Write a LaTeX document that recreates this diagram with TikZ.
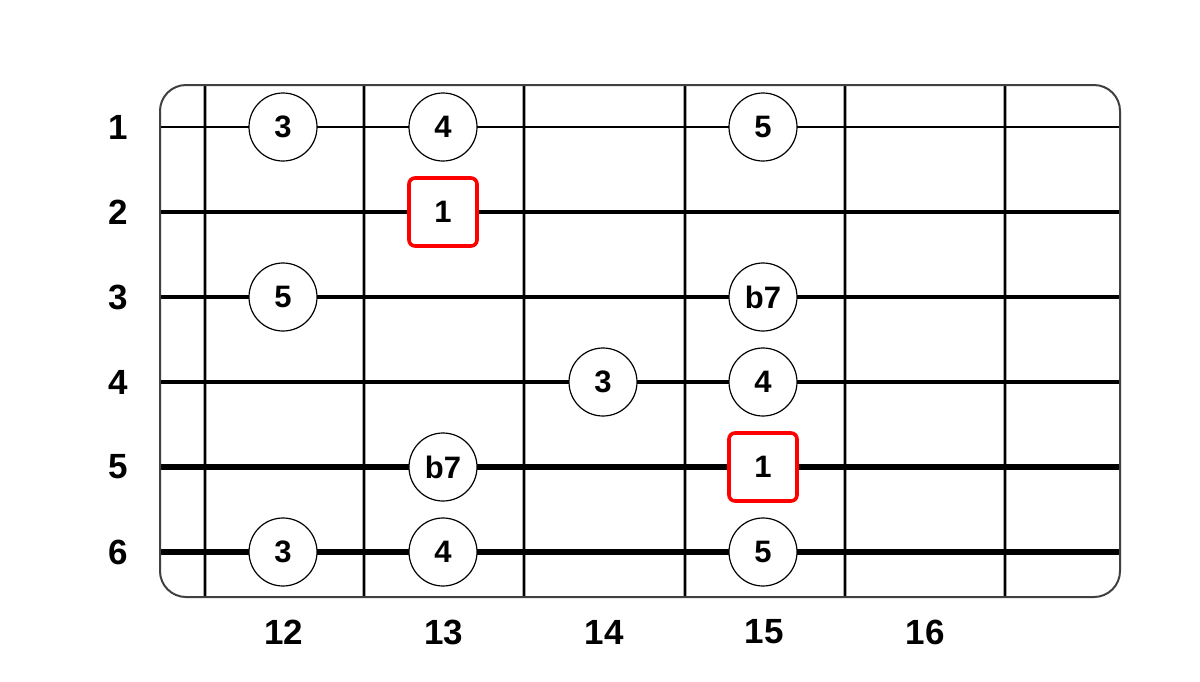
\documentclass[tikz,border=0pt]{standalone}
\usepackage{fontspec}
\setmainfont{Liberation Sans}
\tikzset{
  note/.style={circle, draw, fill=white, line width=0.6pt, minimum size=34pt, inner sep=0pt, font=\fontsize{15.5}{15.5}\selectfont\bfseries},
  root/.style={rectangle, rounded corners=3pt, draw=red, fill=white, line width=1.8pt, minimum size=34pt, inner sep=0pt, font=\fontsize{15.5}{15.5}\selectfont\bfseries},
  label/.style={font=\fontsize{17.5}{17.5}\selectfont\bfseries}
}
\begin{document}
\begin{tikzpicture}[x=0.5pt, y=-0.5pt]
        \useasboundingbox (0,0) rectangle (1200,681);

        % Fretboard outline
        \fill[white] (160,85) [rounded corners=13pt] rectangle (1120,597);

        % Frets
        \foreach \fx in {205,364,524,685,845,1005} {
          \draw[gray!70, line width=2pt] (\fx,85) -- (\fx,597);
          \draw[black, line width=1pt] (\fx,85) -- (\fx,597);
        }

        % Strings (thin to thick)
        \foreach \s/\w in {1/0.7, 2/1.6, 3/1.9, 4/2.4, 5/2.9, 6/3.4} {
          \draw[line width=\w pt] (160,{42+85*\s}) -- (1120,{42+85*\s});
          \node[label] (s\s) at (118,{42+85*\s}) {\s};
        }

        \draw[gray!50!black, line width=1pt, rounded corners=13pt] (160,85) rectangle (1120,597);

        % Fret numbers
        \foreach \n/\cx in {12/284,13/444,14/604,15/764,16/925} {
          \node[label] (f\n) at (\cx,632) {\n};
        }

        % Notes
        \node[note] (n1a) at (283,127) {3};
        \node[note] (n1b) at (443,127) {4};
        \node[note] (n1c) at (763,127) {5};
        \node[root] (r2) at (443,212) {1};
        \node[note] (n3a) at (283,297) {5};
        \node[note] (n3b) at (763,297) {b7};
        \node[note] (n4a) at (603,382) {3};
        \node[note] (n4b) at (763,382) {4};
        \node[note] (n5a) at (443,467) {b7};
        \node[root] (r5) at (763,467) {1};
        \node[note] (n6a) at (283,552) {3};
        \node[note] (n6b) at (443,552) {4};
        \node[note] (n6c) at (763,552) {5};
      \end{tikzpicture}
\end{document}
